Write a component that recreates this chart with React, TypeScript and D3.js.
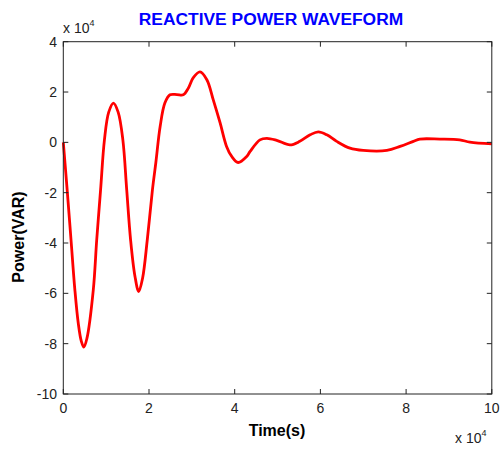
import * as d3 from 'd3'
import { useEffect, useRef } from 'react'

// time in units of 1e4 s, power in units of 1e4 VAR
const timeVals = [0, 0.09, 0.18, 0.27, 0.35, 0.42, 0.48, 0.55, 0.7, 0.78, 0.87, 0.96, 1.06, 1.17, 1.28, 1.39, 1.48, 1.57, 1.67, 1.76, 1.85, 1.96, 2.08, 2.16, 2.26, 2.37, 2.49, 2.65, 2.8, 2.92, 3.03, 3.19, 3.35, 3.5, 3.66, 3.81, 3.93, 4.08, 4.28, 4.36, 4.59, 4.75, 4.98, 5.29, 5.52, 5.76, 5.95, 6.15, 6.38, 6.69, 7.0, 7.55, 7.86, 8.17, 8.32, 8.79, 9.25, 9.49, 10]
const powerVals = [0, -1.89, -3.87, -5.86, -7.2, -7.9, -8.14, -7.8, -5.86, -3.87, -1.89, 0.1, 1.2, 1.56, 1.2, 0.1, -1.89, -3.87, -5.3, -5.93, -5.4, -3.87, -1.89, -0.8, 0.63, 1.56, 1.89, 1.9, 1.89, 2.16, 2.56, 2.8, 2.49, 1.69, 0.77, -0.16, -0.56, -0.8, -0.56, -0.36, 0.1, 0.16, 0.08, -0.1, 0.04, 0.3, 0.42, 0.3, 0.04, -0.23, -0.32, -0.32, -0.16, 0.04, 0.13, 0.13, 0.1, 0.01, -0.06]
const xTicks = [0, 2, 4, 6, 8, 10]
const yTicks = [-10, -8, -6, -4, -2, 0, 2, 4]

export default function App() {
  const ref = useRef<SVGSVGElement>(null)

  useEffect(() => {
    const width = 502
    const height = 450
    const m = { left: 63.3, right: 10.2, top: 41.7, bottom: 56 }
    const svg = d3.select(ref.current)
    svg.selectAll('*').remove()

    const x = d3.scaleLinear().domain([0, 10]).range([m.left, width - m.right])
    const y = d3.scaleLinear().domain([-10, 4]).range([height - m.bottom, m.top])

    const font = 'Liberation Sans, Arial, sans-serif'

    // Title
    svg.append('text')
      .attr('x', 271).attr('y', 25)
      .attr('text-anchor', 'middle')
      .attr('font-family', font).attr('font-weight', 'bold').attr('font-size', 17.4)
      .attr('fill', '#0000ff')
      .text('REACTIVE POWER WAVEFORM')

    // curve
    const line = d3.line<number>()
      .x((_, i) => x(timeVals[i]))
      .y(d => y(d))
      .curve(d3.curveCatmullRom.alpha(0.5))

    svg.append('path')
      .attr('d', line(powerVals))
      .attr('fill', 'none')
      .attr('stroke', '#ff0000')
      .attr('stroke-width', 2.8)
      .attr('stroke-linejoin', 'round')

    // box
    svg.append('rect')
      .attr('x', x(0)).attr('y', y(4))
      .attr('width', x(10) - x(0)).attr('height', y(-10) - y(4))
      .attr('fill', 'none').attr('stroke', '#222').attr('stroke-width', 1)

    const tk = 5
    const gx = svg.append('g')
    xTicks.forEach(t => {
      gx.append('line').attr('x1', x(t)).attr('x2', x(t)).attr('y1', y(-10)).attr('y2', y(-10) - tk).attr('stroke', '#222')
      gx.append('line').attr('x1', x(t)).attr('x2', x(t)).attr('y1', y(4)).attr('y2', y(4) + tk).attr('stroke', '#222')
      gx.append('text')
        .attr('x', x(t)).attr('y', y(-10) + 19)
        .attr('text-anchor', 'middle')
        .attr('font-family', font).attr('font-size', 14).attr('fill', '#222')
        .text(t)
    })
    const gy = svg.append('g')
    yTicks.forEach(t => {
      gy.append('line').attr('x1', x(0)).attr('x2', x(0) + tk).attr('y1', y(t)).attr('y2', y(t)).attr('stroke', '#222')
      gy.append('line').attr('x1', x(10)).attr('x2', x(10) - tk).attr('y1', y(t)).attr('y2', y(t)).attr('stroke', '#222')
      gy.append('text')
        .attr('x', 57).attr('y', y(t) + 5)
        .attr('text-anchor', 'end')
        .attr('font-family', font).attr('font-size', 14).attr('fill', '#222')
        .text(t)
    })

    // exponent labels
    const expo = (ex: number, ey: number) => {
      const t = svg.append('text')
        .attr('x', ex).attr('y', ey)
        .attr('font-family', font).attr('font-size', 14).attr('fill', '#222')
      t.append('tspan').text('x 10')
      t.append('tspan').attr('font-size', 9).attr('dy', -7).text('4')
    }
    expo(63, 33)
    expo(455, 443)

    // axis labels
    svg.append('text')
      .attr('x', 277).attr('y', 436)
      .attr('text-anchor', 'middle')
      .attr('font-family', font).attr('font-weight', 'bold').attr('font-size', 16)
      .attr('fill', '#000')
      .text('Time(s)')

    svg.append('text')
      .attr('transform', `translate(24,${237}) rotate(-90)`)
      .attr('text-anchor', 'middle')
      .attr('font-family', font).attr('font-weight', 'bold').attr('font-size', 16)
      .attr('fill', '#000')
      .text('Power(VAR)')
  }, [])

  return (
    <svg
      ref={ref}
      width={502}
      height={450}
      style={{ position: 'absolute', left: 0, top: 0, background: '#fff' }}
    />
  )
}
